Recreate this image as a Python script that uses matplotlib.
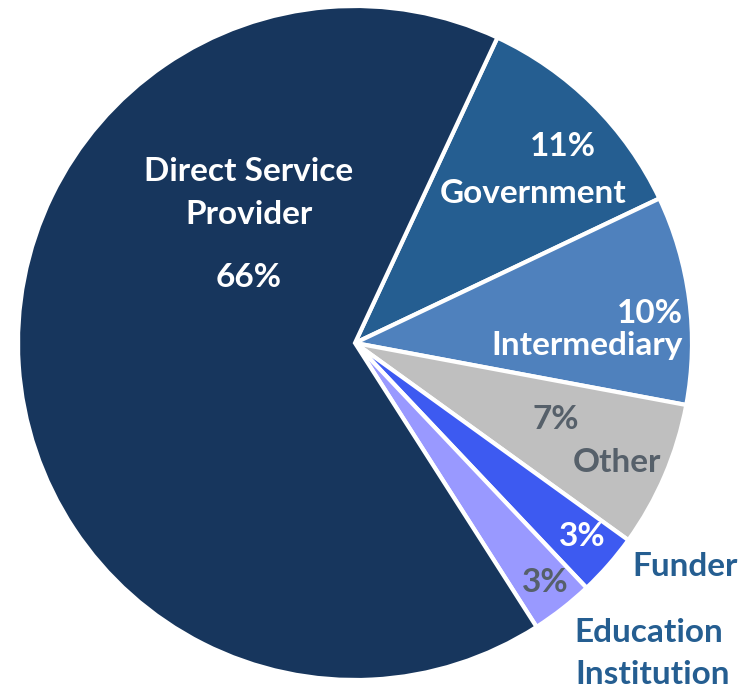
import matplotlib.pyplot as plt

# slice order runs clockwise starting from the Government wedge
categories = ["Government", "Intermediary", "Other", "Funder",
              "Education\nInstitution", "Direct Service\nProvider"]
shares = [11, 10, 7, 3, 3, 66]
colors = ["#255E91", "#4F81BD", "#BFBFBF", "#3D5AF1", "#9999FF", "#17365D"]

W, H = 743, 691
fig = plt.figure(figsize=(W / 100, H / 100), dpi=100)
ax = fig.add_axes([0, 0, 1, 1])

cx, cy, r = 355, H - 343, 337
ax.pie(shares, colors=colors, startangle=65, counterclock=False,
       center=(cx, cy), radius=r, frame=True,
       wedgeprops=dict(edgecolor="white", linewidth=3))
ax.set_xlim(0, W)
ax.set_ylim(0, H)
ax.set_aspect("equal")
ax.axis("off")

FONT = "Lato"
FS = 24
white = "white"
grey = "#56606A"
blue = "#255E91"


def put(x, y, s, color, ha="center"):
    ax.text(x, H - y, s, color=color, fontsize=FS, fontweight="bold",
            family=FONT, ha=ha, va="center")


pct = {c: f"{v}%" for c, v in zip(categories, shares)}

put(249, 171, "Direct Service", white)
put(249, 214, "Provider", white)
put(249, 277, pct["Direct Service\nProvider"], white)

put(563, 146, pct["Government"], white)
put(533, 193, "Government", white)

put(650, 313, pct["Intermediary"], white)
put(587, 345, "Intermediary", white)

put(556, 419, pct["Other"], grey)
put(617, 463, "Other", grey)

put(582, 536, pct["Funder"], white)
put(685, 567, "Funder", blue)

put(545, 582, pct["Education\nInstitution"], grey)
put(649, 632, "Education", blue)
put(653, 675, "Institution", blue)

fig.savefig("out.png", dpi=100)
